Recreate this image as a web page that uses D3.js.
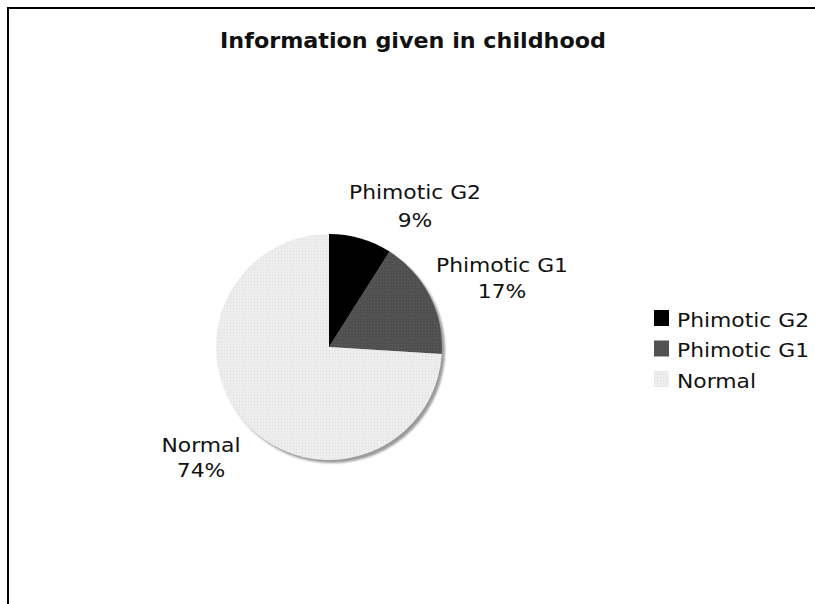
<!DOCTYPE html>
<html>
<head>
<meta charset="utf-8">
<script src="https://cdn.jsdelivr.net/npm/d3@7"></script>
<style>
  html, body { margin: 0; padding: 0; background: #fff; }
  svg { display: block; }
  text { font-family: "DejaVu Sans", Verdana, sans-serif; fill: #111; }
</style>
</head>
<body>
<svg id="chart" width="815" height="604"></svg>
<script>
// Chart data
const categories = ["Phimotic G2", "Phimotic G1", "Normal"];
const percents = [9, 17, 74];
const title = "Information given in childhood";

const W = 815, H = 604;
const svg = d3.select("#chart");

// Wide-set text: drawn at the origin of a horizontally stretched group
function wideText(parent, x, y, sx, size, anchor) {
  return parent.append("g").attr("transform", `translate(${x},${y}) scale(${sx},1)`)
    .append("text").attr("font-size", size).attr("text-anchor", anchor || "start");
}

// Dot textures for the grey slices
const defs = svg.append("defs");
function dotPattern(id, base, dot) {
  const p = defs.append("pattern").attr("id", id)
    .attr("width", 3).attr("height", 3).attr("patternUnits", "userSpaceOnUse");
  p.append("rect").attr("width", 3).attr("height", 3).attr("fill", base);
  p.append("rect").attr("width", 1).attr("height", 1).attr("fill", dot);
}
dotPattern("pat1", "#505050", "#5e5e5e");
dotPattern("pat2", "#ededed", "#dcdcdc");
const fills = ["#000000", "url(#pat1)", "url(#pat2)"];

// Frame lines (top and left)
svg.append("line").attr("x1", 7).attr("x2", W).attr("y1", 8).attr("y2", 8)
  .attr("stroke", "#000").attr("stroke-width", 2);
svg.append("line").attr("x1", 8).attr("x2", 8).attr("y1", 7).attr("y2", H)
  .attr("stroke", "#000").attr("stroke-width", 2);

// Title
wideText(svg, 413, 48, 1.06, 21, "middle").attr("font-weight", "bold").text(title);

// Pie
const cx = 329, cy = 347, R = 113;
const pie = d3.pie().sort(null).value(d => d)(percents);
const arc = d3.arc().innerRadius(0).outerRadius(R);
const g = svg.append("g").attr("transform", `translate(${cx},${cy})`);

// soft drop shadow
const f = defs.append("filter").attr("id", "shadow").attr("x", "-10%").attr("y", "-10%")
  .attr("width", "130%").attr("height", "130%");
f.append("feGaussianBlur").attr("stdDeviation", 1.2);
g.append("circle").attr("cx", 3).attr("cy", 3).attr("r", R)
  .attr("fill", "#9a9a9a").attr("filter", "url(#shadow)");

g.selectAll("path.slice").data(pie).join("path")
  .attr("class", "slice")
  .attr("d", arc)
  .attr("fill", (d, i) => fills[i]);

// Slice labels
const labelPos = [[415, 199], [502, 272], [201, 452]];
const labelGap = [28, 26, 25];
pie.forEach((d, i) => {
  const t = wideText(svg, labelPos[i][0], labelPos[i][1], 1.12, 19.5, "middle");
  t.append("tspan").attr("x", 0).text(categories[i]);
  t.append("tspan").attr("x", 0).attr("dy", labelGap[i]).text(percents[i] + "%");
});

// Legend
const lg = svg.append("g").attr("transform", "translate(654,310)");
const rows = lg.selectAll("g").data(categories).join("g")
  .attr("transform", (d, i) => `translate(0,${i * 30.5})`);
rows.append("rect").attr("width", 15).attr("height", 16)
  .attr("fill", (d, i) => fills[i]);
rows.each(function (d) {
  wideText(d3.select(this), 23, 16.5, 1.12, 19.5).text(d);
});
</script>
</body>
</html>
